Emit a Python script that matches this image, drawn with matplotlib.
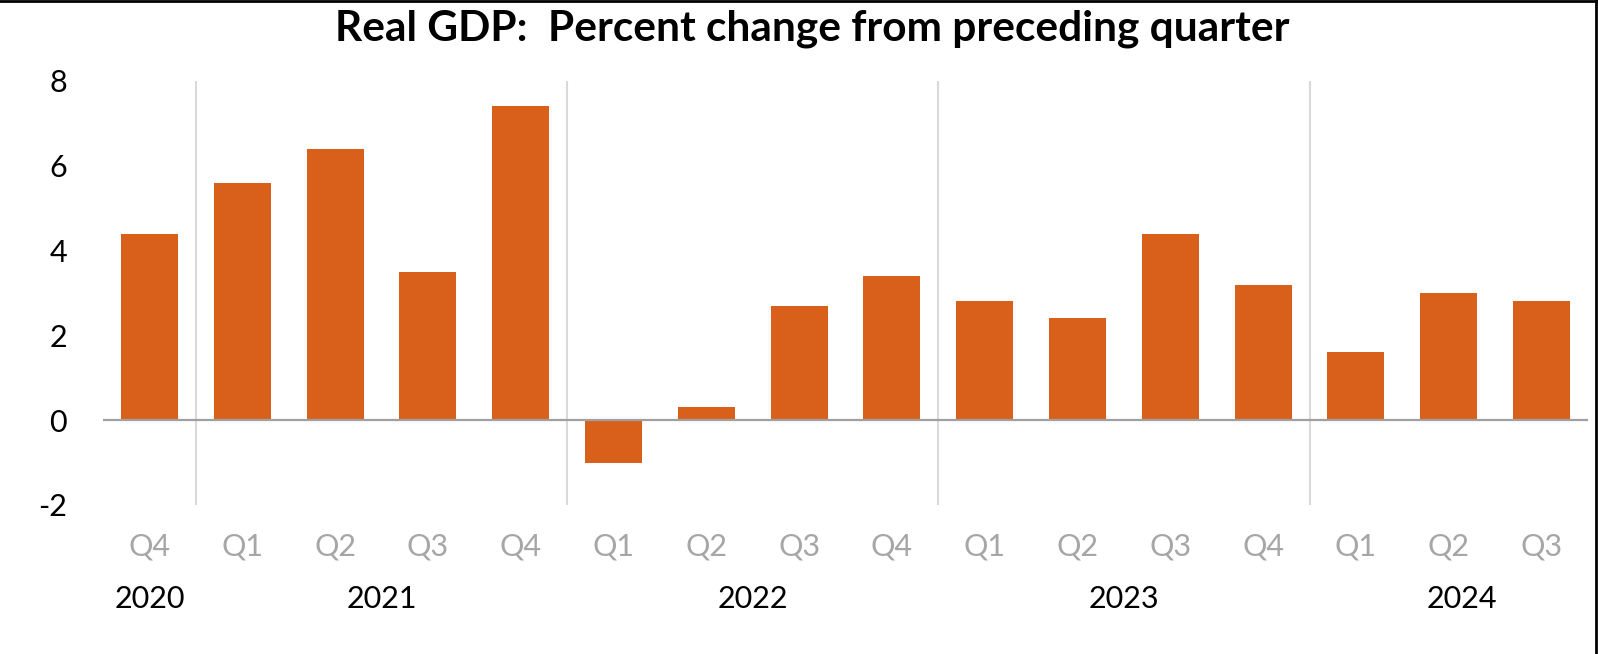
import matplotlib
matplotlib.use("Agg")
import matplotlib.pyplot as plt
from matplotlib.lines import Line2D

# ---- data ----
quarters = ["Q4", "Q1", "Q2", "Q3", "Q4", "Q1", "Q2", "Q3", "Q4",
            "Q1", "Q2", "Q3", "Q4", "Q1", "Q2", "Q3"]
years = ["2020", "2021", "2022", "2023", "2024"]
year_sizes = [1, 4, 4, 4, 3]
gdp_change = [4.4, 5.6, 6.4, 3.5, 7.4, -1.0, 0.3, 2.7, 3.4,
              2.8, 2.4, 4.4, 3.2, 1.6, 3.0, 2.8]
yticks = [-2, 0, 2, 4, 6, 8]
title = "Real GDP:  Percent change from preceding quarter"

BAR = "#D9601A"
FONT = "Lato"
W, H = 1598, 654

fig = plt.figure(figsize=(W / 100, H / 100), dpi=100)
fig.patch.set_facecolor("white")
ax = fig.add_axes([103 / W, (H - 505) / H, (1588 - 103) / W, (505 - 81) / H])

x = list(range(len(gdp_change)))
ax.bar(x, gdp_change, width=0.614, color=BAR, edgecolor="none", zorder=3)
ax.axhline(0, color="#A0A0A0", lw=1.6, zorder=4)

ax.set_xlim(-0.5, len(x) - 0.5)
ax.set_ylim(-2, 8)
for s in ax.spines.values():
    s.set_visible(False)

ax.set_yticks(yticks)
ax.set_yticklabels([str(v) for v in yticks], fontsize=22, fontfamily=FONT,
                   color="black")
ax.tick_params(axis="y", length=0, pad=26)
ax.set_xticks([])

# year separators and labels
xt = ax.get_xaxis_transform()
start = 0
for i, (yr, n) in enumerate(zip(years, year_sizes)):
    if i > 0:
        ax.axvline(start - 0.5, ymin=0, ymax=1, color="#D9D9D9", lw=1.5, zorder=1)
    center = start + (n - 1) / 2
    if yr == "2024":
        center += 0.14
    ax.text(center, -0.243, yr, transform=xt, ha="center", va="baseline",
            fontsize=22, fontfamily=FONT, color="black")
    start += n

for xi, q in zip(x, quarters):
    ax.text(xi, -0.118, q, transform=xt, ha="center", va="baseline",
            fontsize=22, fontfamily=FONT, color="#A6A6A6")

fig.text(812 / W, 1 - 41 / H, title, ha="center", va="baseline",
         fontsize=30.5, fontweight="bold", fontfamily=FONT, color="black")

# frame edges visible in the reference (top and right)
fig.add_artist(Line2D([0, 1], [1 - 1 / H, 1 - 1 / H], transform=fig.transFigure,
                      color="black", lw=2))
fig.add_artist(Line2D([1 - 2 / W, 1 - 2 / W], [0, 1], transform=fig.transFigure,
                      color="black", lw=2))

fig.savefig("out.png", dpi=100, facecolor="white")
